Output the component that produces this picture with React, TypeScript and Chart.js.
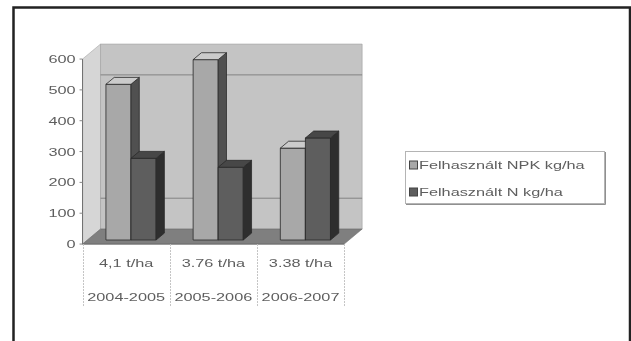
import React, { useEffect, useRef } from "react";
import { Chart, registerables } from "chart.js";

Chart.register(...registerables);

// Data
const periods = ["2004-2005", "2005-2006", "2006-2007"];
const yieldLabels = ["4,1 t/ha", "3.76 t/ha", "3.38 t/ha"];
const npkValues = [505, 585, 298];
const nValues = [265, 236, 331];
const seriesNames = ["Felhasznált NPK kg/ha", "Felhasznált N kg/ha"];
const yTickValues = [0, 100, 200, 300, 400, 500, 600];
const wallGridValues = [100, 500];

// Geometry of the 3D box (full depth of the walls) and of the columns
const WALL_DX = 18;
const WALL_DY = -15;
const BAR_D0 = 0.27; // depth fraction of the column front faces
const BAR_D1 = 0.73; // depth fraction of the column back faces
const SX = 1.48; // horizontal text stretch
const FONT = "11px 'Liberation Sans', Arial, sans-serif";
const TEXT = "#5e5e5e";

const seriesStyle = [
  { front: "#a8a8a8", top: "#cbcbcb", side: "#505050" },
  { front: "#5e5e5e", top: "#474747", side: "#2e2e2e" },
];

function sText(ctx: CanvasRenderingContext2D, t: string, x: number, y: number, align: CanvasTextAlign) {
  ctx.save();
  ctx.translate(x, y);
  ctx.scale(SX, 1);
  ctx.textAlign = align;
  ctx.textBaseline = "middle";
  ctx.fillText(t, 0, 0);
  ctx.restore();
}

function poly(ctx: CanvasRenderingContext2D, pts: number[][], fill: string, stroke?: string, lw = 0.8) {
  ctx.beginPath();
  ctx.moveTo(pts[0][0], pts[0][1]);
  for (let i = 1; i < pts.length; i++) ctx.lineTo(pts[i][0], pts[i][1]);
  ctx.closePath();
  ctx.fillStyle = fill;
  ctx.fill();
  if (stroke) {
    ctx.strokeStyle = stroke;
    ctx.lineWidth = lw;
    ctx.stroke();
  }
}

// project a point of the column front plane to depth fraction d
function at(x: number, y: number, d: number): number[] {
  return [x + (d - BAR_D0) * WALL_DX, y + (d - BAR_D0) * WALL_DY];
}

const box3d = {
  id: "box3d",
  beforeDatasetsDraw(chart: any) {
    const ctx: CanvasRenderingContext2D = chart.ctx;
    const { left, right } = chart.chartArea;
    const ys = chart.scales.y;
    const xs = chart.scales.x;
    const yMax = ys.getPixelForValue(600);
    const y0 = ys.getPixelForValue(0);

    ctx.save();
    // outer frame
    ctx.strokeStyle = "#222";
    ctx.lineWidth = 2.5;
    ctx.strokeRect(13.5, 7.5, 616.5, 360);

    // side wall
    poly(ctx, [at(left, yMax, 0), at(left, yMax, 1), at(left, y0, 1), at(left, y0, 0)], "#d6d6d6", "#a8a8a8", 0.6);
    // back wall
    poly(ctx, [at(left, yMax, 1), at(right, yMax, 1), at(right, y0, 1), at(left, y0, 1)], "#c4c4c4", "#a0a0a0", 0.6);
    // floor
    poly(ctx, [at(left, y0, 0), at(left, y0, 1), at(right, y0, 1), at(right, y0, 0)], "#7f7f7f", "#6c6c6c", 0.6);

    // wall gridlines
    ctx.strokeStyle = "#838383";
    ctx.lineWidth = 1;
    for (const v of wallGridValues) {
      const y = ys.getPixelForValue(v);
      const a = at(left, y, 1);
      const b = at(right, y, 1);
      ctx.beginPath();
      ctx.moveTo(a[0], a[1]);
      ctx.lineTo(b[0], b[1]);
      ctx.stroke();
    }

    // front axis edge and zero edge
    const fl = at(left, 0, 0)[0];
    const fr = at(right, 0, 0)[0];
    ctx.strokeStyle = "#707070";
    ctx.lineWidth = 1;
    ctx.beginPath();
    ctx.moveTo(fl, at(left, yMax, 0)[1]);
    ctx.lineTo(fl, at(left, y0, 0)[1]);
    ctx.lineTo(fr, at(right, y0, 0)[1]);
    ctx.stroke();

    // y ticks and labels
    ctx.font = FONT;
    ctx.fillStyle = TEXT;
    for (const v of yTickValues) {
      const y = at(left, ys.getPixelForValue(v), 0)[1];
      ctx.strokeStyle = "#888";
      ctx.beginPath();
      ctx.moveTo(fl - 3, y);
      ctx.lineTo(fl, y);
      ctx.stroke();
      sText(ctx, String(v), fl - 7, y + 1, "right");
    }

    // category table under the floor
    const catW = (right - left) / periods.length;
    const tableTop = at(left, y0, 0)[1];
    ctx.strokeStyle = "#c4c4c4";
    ctx.setLineDash([2, 1]);
    for (let k = 0; k <= periods.length; k++) {
      const x = Math.round(fl + k * catW) + 0.5;
      ctx.beginPath();
      ctx.moveTo(x, tableTop);
      ctx.lineTo(x, tableTop + 63);
      ctx.stroke();
    }
    ctx.setLineDash([]);
    for (let i = 0; i < periods.length; i++) {
      const cx = at(xs.getPixelForValue(i), 0, 0)[0];
      sText(ctx, yieldLabels[i], cx, tableTop + 20, "center");
      sText(ctx, periods[i], cx, tableTop + 54, "center");
    }
    ctx.restore();
  },
  afterDatasetsDraw(chart: any) {
    const ctx: CanvasRenderingContext2D = chart.ctx;
    const n = chart.data.labels.length;
    const bdx = (BAR_D1 - BAR_D0) * WALL_DX;
    const bdy = (BAR_D1 - BAR_D0) * WALL_DY;
    ctx.save();
    for (let i = 0; i < n; i++) {
      chart.data.datasets.forEach((_ds: any, j: number) => {
        const el = chart.getDatasetMeta(j).data[i];
        const { x, y, base, width } = el.getProps(["x", "y", "base", "width"], true);
        const l = x - width / 2;
        const r = x + width / 2;
        const st = seriesStyle[j];
        const edge = "#2a2a2a";
        poly(ctx, [[l, y], [r, y], [r, base], [l, base]], st.front, edge);
        poly(ctx, [[r, y], [r + bdx, y + bdy], [r + bdx, base + bdy], [r, base]], st.side, edge);
        poly(ctx, [[l, y], [l + bdx, y + bdy], [r + bdx, y + bdy], [r, y]], st.top, edge);
      });
    }

    // legend
    const lx = 405, ly = 151, lw = 199, lh = 52;
    ctx.fillStyle = "#ffffff";
    ctx.fillRect(lx, ly, lw, lh);
    ctx.strokeStyle = "#b4b4b4";
    ctx.lineWidth = 1;
    ctx.strokeRect(lx + 0.5, ly + 0.5, lw, lh);
    ctx.strokeStyle = "#909090";
    ctx.beginPath();
    ctx.moveTo(lx + 1, ly + lh + 1.5);
    ctx.lineTo(lx + lw + 1.5, ly + lh + 1.5);
    ctx.lineTo(lx + lw + 1.5, ly + 1);
    ctx.stroke();
    ctx.font = FONT;
    chart.data.datasets.forEach((ds: any, j: number) => {
      const cy = ly + 14 + j * 27;
      ctx.fillStyle = seriesStyle[j].front;
      ctx.fillRect(lx + 4.5, cy - 4, 8, 8);
      ctx.strokeStyle = "#444";
      ctx.strokeRect(lx + 4.5, cy - 4, 8, 8);
      ctx.fillStyle = TEXT;
      sText(ctx, ds.label, lx + 14, cy + 1, "left");
    });
    ctx.restore();
  },
};

export default function App() {
  const ref = useRef<HTMLCanvasElement>(null);

  useEffect(() => {
    if (!ref.current) return;
    const chart = new Chart(ref.current, {
      type: "bar",
      data: {
        labels: periods,
        datasets: [
          { label: seriesNames[0], data: npkValues, backgroundColor: seriesStyle[0].front, borderWidth: 0 },
          { label: seriesNames[1], data: nValues, backgroundColor: seriesStyle[1].front, borderWidth: 0 },
        ],
      },
      options: {
        responsive: false,
        animation: false,
        layout: { padding: { left: 87.4, right: 282, top: 55, bottom: 101 } },
        datasets: { bar: { categoryPercentage: 0.575, barPercentage: 1 } },
        scales: {
          x: { type: "category", display: false, offset: true },
          y: { type: "linear", display: false, min: 0, max: 600 },
        },
        plugins: { legend: { display: false }, tooltip: { enabled: false } },
      },
      plugins: [box3d],
    });
    return () => chart.destroy();
  }, []);

  return (
    <div style={{ position: "fixed", left: 0, top: 0, width: 631, height: 341, background: "#fff" }}>
      <canvas ref={ref} width={631} height={341} style={{ display: "block" }} />
    </div>
  );
}
